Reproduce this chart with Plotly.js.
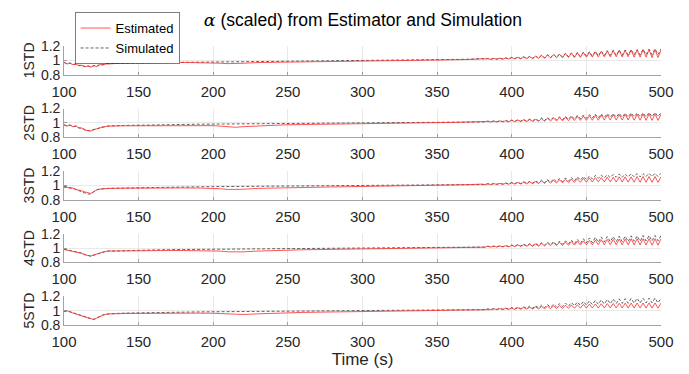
<!DOCTYPE html>
<html>
<head>
<meta charset="utf-8">
<script src="https://cdn.plot.ly/plotly-3.0.1.min.js"></script>
<style>html,body{margin:0;padding:0;background:#fff;}#chart{width:689px;height:374px;}</style>
</head>
<body>
<div id="chart"></div>
<script>
// Time samples (s)
const time = [100,102,104,106,108,110,112,114,116,118,120,122,124,126,128,130,
  140,150,160,170,180,190,200,205,210,215,220,230,240,250,260,270,280,290,300,310,320,330,340,350,360,370,
  380,382,384,386,388,390,392,394,396,398,400,402,404,406,408,410,412,414,416,418,
  420,422,424,426,428,430,432,434,436,438,440,442,444,446,448,450,452,454,456,458,
  460,462,464,466,468,470,472,474,476,478,480,482,484,486,488,490,492,494,496,498,500];

const panelLabels = ["1STD","2STD","3STD","4STD","5STD"];
const xTicks = [100,150,200,250,300,350,400,450,500];
const yTicks = [0.8,1,1.2];
const yTickText = ["0.8","1","1.2"];

// Simulated alpha (scaled)
const sim1 = [0.975,0.955,0.965,0.945,0.95,0.93,0.935,0.915,0.925,0.91,0.93,0.92,0.945,0.94,0.955,0.955,
  0.96,0.965,0.968,0.97,0.972,0.974,0.975,0.975,0.976,0.976,0.977,0.978,0.98,0.982,0.984,0.986,0.988,0.99,0.992,0.995,0.998,1.0,1.003,1.006,1.01,1.015,
  1.025,1.015,1.027,1.016,1.029,1.018,1.032,1.019,1.035,1.021,
  1.042,1.024,1.046,1.026,1.05,1.028,1.055,1.03,1.06,1.032,
  1.075,1.035,1.08,1.04,1.085,1.045,1.09,1.045,1.1,1.05,
  1.105,1.05,1.11,1.055,1.115,1.06,1.12,1.06,1.125,1.065,
  1.13,1.065,1.135,1.07,1.14,1.07,1.145,1.07,1.145,1.075,
  1.15,1.075,1.15,1.075,1.155,1.08,1.155,1.08,1.16,1.08,1.16];
const sim2 = [0.975,0.96,0.97,0.95,0.955,0.93,0.925,0.905,0.89,0.9,0.91,0.925,0.94,0.95,0.955,0.96,
  0.965,0.97,0.975,0.978,0.98,0.982,0.984,0.985,0.985,0.986,0.986,0.987,0.988,0.99,0.991,0.992,0.994,0.995,0.997,0.999,1.0,1.002,1.004,1.007,1.011,1.016,
  1.022,1.014,1.025,1.015,1.028,1.017,1.031,1.019,1.034,1.02,
  1.04,1.022,1.044,1.024,1.048,1.026,1.053,1.028,1.058,1.03,
  1.07,1.034,1.075,1.038,1.08,1.042,1.085,1.045,1.09,1.05,
  1.1,1.055,1.105,1.06,1.11,1.065,1.115,1.068,1.12,1.07,
  1.125,1.075,1.13,1.078,1.13,1.08,1.135,1.08,1.135,1.082,
  1.14,1.085,1.14,1.085,1.14,1.085,1.145,1.088,1.145,1.09,1.14];
const sim3 = [0.99,0.985,0.97,0.96,0.945,0.93,0.91,0.89,0.88,0.885,0.91,0.94,0.95,0.955,0.958,0.96,
  0.965,0.97,0.975,0.978,0.98,0.982,0.984,0.985,0.985,0.986,0.986,0.987,0.988,0.99,0.991,0.992,0.994,0.995,0.997,0.999,1.0,1.002,1.004,1.007,1.011,1.016,
  1.022,1.014,1.025,1.015,1.028,1.017,1.031,1.019,1.035,1.02,
  1.042,1.024,1.047,1.027,1.052,1.03,1.058,1.033,1.064,1.036,
  1.075,1.04,1.082,1.045,1.09,1.05,1.097,1.055,1.105,1.06,
  1.11,1.065,1.12,1.075,1.125,1.08,1.13,1.09,1.14,1.1,
  1.145,1.105,1.15,1.11,1.155,1.115,1.16,1.115,1.16,1.12,
  1.165,1.12,1.165,1.12,1.165,1.125,1.17,1.125,1.17,1.125,1.17];
const sim4 = [0.985,0.975,0.97,0.96,0.955,0.94,0.93,0.91,0.895,0.885,0.9,0.915,0.93,0.945,0.955,0.958,
  0.965,0.97,0.975,0.978,0.98,0.982,0.984,0.985,0.985,0.986,0.986,0.987,0.988,0.99,0.991,0.992,0.994,0.995,0.997,0.999,1.0,1.002,1.004,1.007,1.011,1.016,
  1.022,1.014,1.025,1.015,1.028,1.017,1.031,1.019,1.035,1.02,
  1.042,1.024,1.048,1.027,1.054,1.03,1.06,1.033,1.066,1.036,
  1.075,1.04,1.08,1.044,1.088,1.048,1.095,1.052,1.1,1.056,
  1.11,1.06,1.12,1.065,1.13,1.07,1.14,1.075,1.15,1.08,
  1.155,1.085,1.16,1.088,1.16,1.09,1.165,1.09,1.165,1.092,
  1.17,1.095,1.17,1.095,1.175,1.098,1.175,1.1,1.175,1.1,1.175];
const sim5 = [0.99,0.995,0.985,0.97,0.96,0.945,0.93,0.915,0.9,0.89,0.88,0.9,0.925,0.94,0.95,0.955,
  0.965,0.97,0.975,0.978,0.98,0.982,0.984,0.985,0.985,0.986,0.986,0.987,0.988,0.99,0.991,0.992,0.994,0.995,0.997,0.999,1.0,1.002,1.004,1.007,1.011,1.016,
  1.022,1.014,1.025,1.015,1.028,1.017,1.031,1.019,1.035,1.02,
  1.042,1.024,1.048,1.027,1.054,1.03,1.06,1.034,1.067,1.038,
  1.075,1.042,1.082,1.047,1.09,1.052,1.097,1.057,1.105,1.062,
  1.112,1.067,1.12,1.072,1.128,1.078,1.135,1.083,1.142,1.088,
  1.15,1.092,1.155,1.095,1.16,1.098,1.163,1.1,1.166,1.102,
  1.17,1.104,1.17,1.105,1.172,1.106,1.174,1.106,1.175,1.107,1.176];

// Estimated alpha (scaled)
const est1 = [0.97,0.95,0.96,0.94,0.945,0.925,0.93,0.91,0.92,0.905,0.925,0.915,0.94,0.935,0.95,0.95,
  0.965,0.97,0.968,0.97,0.972,0.97,0.968,0.96,0.955,0.955,0.96,0.97,0.975,0.978,0.98,0.982,0.984,0.986,0.99,0.993,0.996,0.998,1.0,1.004,1.008,1.012,
  1.02,1.012,1.024,1.013,1.026,1.015,1.03,1.016,1.033,1.018,
  1.04,1.02,1.043,1.022,1.047,1.023,1.052,1.025,1.057,1.027,
  1.07,1.028,1.075,1.032,1.08,1.035,1.085,1.035,1.095,1.04,
  1.1,1.04,1.105,1.042,1.11,1.045,1.115,1.045,1.12,1.048,
  1.125,1.05,1.13,1.05,1.135,1.05,1.14,1.048,1.14,1.05,
  1.145,1.045,1.145,1.045,1.15,1.045,1.15,1.04,1.15,1.04,1.145];
const est2 = [0.97,0.955,0.975,0.945,0.96,0.93,0.93,0.9,0.895,0.885,0.905,0.92,0.935,0.945,0.95,0.955,
  0.96,0.962,0.963,0.964,0.965,0.964,0.962,0.955,0.945,0.94,0.948,0.96,0.968,0.975,0.978,0.98,0.982,0.985,0.988,0.99,0.993,0.996,0.999,1.003,1.007,1.012,
  1.02,1.012,1.022,1.013,1.025,1.014,1.028,1.015,1.03,1.016,
  1.036,1.018,1.04,1.019,1.043,1.02,1.047,1.021,1.05,1.022,
  1.06,1.024,1.065,1.026,1.07,1.028,1.075,1.03,1.08,1.032,
  1.085,1.034,1.09,1.035,1.095,1.036,1.1,1.037,1.105,1.038,
  1.11,1.04,1.11,1.04,1.115,1.04,1.115,1.04,1.12,1.04,
  1.12,1.038,1.12,1.038,1.125,1.036,1.125,1.036,1.125,1.035,1.12];
const est3 = [0.97,0.975,0.96,0.965,0.945,0.94,0.925,0.91,0.895,0.89,0.915,0.94,0.95,0.955,0.958,0.96,
  0.962,0.965,0.966,0.966,0.966,0.965,0.962,0.955,0.945,0.942,0.948,0.96,0.966,0.97,0.975,0.978,0.98,0.983,0.986,0.989,0.992,0.995,0.998,1.002,1.006,1.011,
  1.02,1.012,1.023,1.013,1.026,1.014,1.029,1.015,1.032,1.017,
  1.038,1.019,1.042,1.021,1.046,1.023,1.05,1.025,1.055,1.027,
  1.065,1.03,1.07,1.032,1.075,1.035,1.08,1.037,1.085,1.04,
  1.09,1.042,1.095,1.044,1.1,1.046,1.105,1.048,1.11,1.05,
  1.11,1.05,1.115,1.05,1.115,1.048,1.12,1.048,1.12,1.046,
  1.12,1.046,1.125,1.045,1.125,1.045,1.125,1.044,1.125,1.044,1.12];
const est4 = [0.98,0.97,0.965,0.955,0.95,0.935,0.925,0.905,0.895,0.89,0.905,0.92,0.935,0.948,0.955,0.958,
  0.962,0.965,0.966,0.966,0.966,0.965,0.963,0.957,0.948,0.943,0.947,0.958,0.966,0.972,0.976,0.979,0.982,0.984,0.987,0.99,0.993,0.996,0.999,1.003,1.007,1.012,
  1.02,1.012,1.023,1.013,1.026,1.014,1.029,1.016,1.032,1.017,
  1.038,1.02,1.043,1.022,1.047,1.024,1.052,1.026,1.057,1.028,
  1.065,1.03,1.07,1.032,1.075,1.034,1.08,1.036,1.085,1.038,
  1.09,1.04,1.095,1.042,1.1,1.044,1.105,1.045,1.11,1.046,
  1.115,1.047,1.12,1.047,1.12,1.046,1.125,1.045,1.125,1.044,
  1.13,1.043,1.13,1.042,1.13,1.042,1.13,1.04,1.13,1.04,1.13];
const est5 = [0.985,1.0,0.98,0.965,0.958,0.942,0.928,0.912,0.898,0.888,0.875,0.895,0.92,0.935,0.948,0.953,
  0.96,0.963,0.965,0.966,0.966,0.965,0.963,0.958,0.95,0.944,0.946,0.955,0.965,0.97,0.975,0.978,0.98,0.983,0.986,0.989,0.992,0.995,0.998,1.002,1.006,1.011,
  1.02,1.012,1.022,1.013,1.025,1.014,1.028,1.015,1.031,1.016,
  1.036,1.018,1.04,1.02,1.044,1.021,1.048,1.022,1.052,1.024,
  1.058,1.026,1.062,1.028,1.066,1.03,1.07,1.031,1.074,1.032,
  1.078,1.033,1.082,1.034,1.086,1.035,1.09,1.036,1.093,1.036,
  1.096,1.037,1.098,1.037,1.1,1.037,1.102,1.036,1.104,1.036,
  1.105,1.036,1.106,1.036,1.106,1.035,1.107,1.035,1.107,1.035,1.106];

const simSeries = [sim1,sim2,sim3,sim4,sim5];
const estSeries = [est1,est2,est3,est4,est5];

const FONT = "Liberation Sans, Arial, Helvetica, sans-serif";
const TXT = "#262626";
const AX = "#8c8c8c";
const GRID = "#e3e3e3";

const H = 374, mT = 34, mB = 49, plotH = H - mT - mB;
const panelTop = [34, 99.25, 164.5, 229.75, 295];
const panelH = 30;

const data = [];
const layout = {
  width: 689, height: 374,
  margin: {l: 64, r: 28, t: mT, b: mB},
  paper_bgcolor: "#fff", plot_bgcolor: "#fff",
  font: {family: FONT, size: 14, color: TXT},
  showlegend: true,
  title: {
    text: '<span style="font-family:\'DejaVu Serif\',serif;font-style:italic">α</span> (scaled) from Estimator and Simulation',
    font: {family: FONT, size: 17.5, color: "#000"},
    x: 0.5267, xanchor: "center", y: 0.948, yanchor: "middle"
  },
  legend: {
    x: 0.0184, y: 1.12, xanchor: "left", yanchor: "top",
    bgcolor: "#fff", bordercolor: "#262626", borderwidth: 0.6,
    font: {family: FONT, size: 13, color: "#000"},
    tracegroupgap: 0, itemwidth: 30
  }
};

for (let k = 0; k < 5; k++) {
  const sfx = k === 0 ? "" : String(k + 1);
  const top = panelTop[k];
  const dom = [(H - mB - (top + panelH)) / plotH, (H - mB - top) / plotH];
  layout["yaxis" + sfx] = {
    domain: dom, anchor: "x" + sfx, range: [0.8, 1.2],
    tickvals: yTicks, ticktext: yTickText,
    ticks: "inside", ticklen: 3, tickcolor: AX, tickwidth: 0.8,
    showline: true, linecolor: AX, linewidth: 0.8,
    showgrid: true, gridcolor: GRID, gridwidth: 0.8, zeroline: false,
    tickfont: {family: FONT, size: 14, color: TXT},
    title: {text: panelLabels[k], font: {family: FONT, size: 14, color: TXT}, standoff: 2},
    fixedrange: true
  };
  layout["xaxis" + sfx] = {
    domain: [0, 1], anchor: "y" + sfx, range: [100, 500],
    tickvals: xTicks,
    ticks: "inside", ticklen: 3, tickcolor: AX, tickwidth: 0.8,
    showline: true, linecolor: AX, linewidth: 0.8,
    showgrid: true, gridcolor: GRID, gridwidth: 0.8, zeroline: false,
    tickfont: {family: FONT, size: 15, color: TXT},
    ticklabelstandoff: 3,
    fixedrange: true
  };
  data.push({
    x: time, y: simSeries[k], type: "scatter", mode: "lines",
    xaxis: "x" + sfx, yaxis: "y" + sfx,
    name: "Simulated", legendrank: 2, showlegend: k === 0,
    line: {color: "#3a3a3a", width: 0.8, dash: "3px,2px"}
  });
  data.push({
    x: time, y: estSeries[k], type: "scatter", mode: "lines",
    xaxis: "x" + sfx, yaxis: "y" + sfx,
    name: "Estimated", legendrank: 1, showlegend: k === 0,
    line: {color: "#ff2a2a", width: 0.8}
  });
}
layout.xaxis5.title = {text: "Time (s)", font: {family: FONT, size: 17, color: TXT}, standoff: 4};

Plotly.newPlot("chart", data, layout, {staticPlot: true, displayModeBar: false});
</script>
</body>
</html>
